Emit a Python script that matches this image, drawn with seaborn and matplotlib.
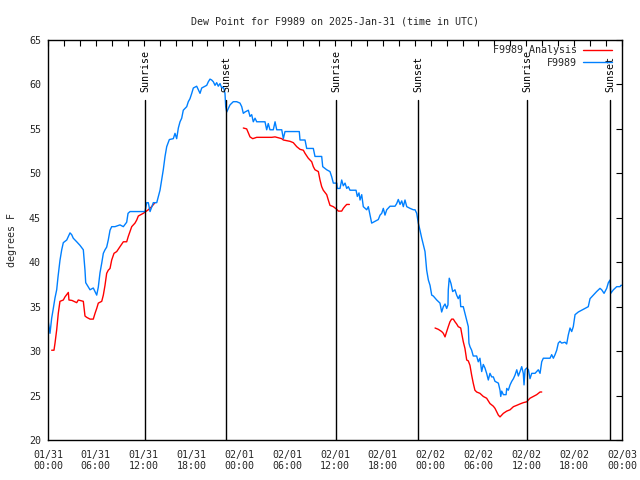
import numpy as np
import pandas as pd
import matplotlib
matplotlib.use("Agg")
import matplotlib.pyplot as plt
import seaborn as sns

# ---- data (hours since 2025-01-31 00:00 UTC, dew point in F) ----
obs_t = [0.0, 0.25, 0.46, 0.63, 0.88, 1.09, 1.25, 1.5, 1.72, 1.92, 2.35, 2.76, 2.97, 3.17, 3.6, 4.01,
         4.43, 4.64, 4.73, 5.06, 5.27, 5.68, 5.9, 6.11, 6.31, 6.52, 6.74, 6.94, 7.15, 7.36, 7.56, 7.78,
         7.99, 8.4, 9.03, 9.45, 9.87, 10.04, 10.29, 12.17, 12.38, 12.58, 12.8, 13.0, 13.21, 13.64, 13.84,
         14.05, 14.26, 14.46, 14.68, 14.89, 15.22, 15.72, 15.93, 16.14, 16.35, 16.56, 16.77, 16.97, 17.4,
         17.6, 17.81, 18.03, 18.23, 18.65, 19.07, 19.28, 19.69, 19.91, 20.11, 20.32, 20.53, 20.74, 20.95,
         21.16, 21.36, 21.58, 21.79, 21.99, 22.2, 22.29, 22.42, 22.62, 22.83, 23.24, 23.67, 24.08, 24.3,
         24.5, 24.71, 25.13, 25.34, 25.55, 25.75, 25.97, 26.18, 27.22, 27.43, 27.63, 27.84, 28.26, 28.48,
         28.69, 29.32, 29.52, 29.73, 31.52, 31.61, 32.24, 32.45, 33.28, 33.49, 34.33, 34.46, 34.96, 35.37,
         35.59, 35.79, 36.22, 36.29, 36.63, 36.84, 37.04, 37.26, 37.47, 37.67, 37.88, 38.64, 38.8, 39.01,
         39.14, 39.35, 39.55, 39.98, 40.18, 40.39, 40.6, 41.02, 41.43, 41.65, 41.86, 42.06, 42.27, 42.49,
         42.9, 43.53, 43.74, 43.94, 44.16, 44.37, 44.57, 44.78, 45.0, 45.41, 45.83, 46.04, 46.25, 46.45,
         46.66, 46.88, 47.29, 47.5, 47.71, 47.92, 48.13, 48.33, 48.76, 49.17, 49.38, 49.59, 49.8, 50.01,
         50.17, 50.21, 50.33, 50.55, 50.76, 51.05, 51.26, 51.46, 51.67, 51.77, 52.09, 52.3, 52.52, 52.72,
         52.8, 52.93, 53.14, 53.34, 53.77, 53.97, 54.18, 54.4, 54.6, 54.81, 55.02, 55.23, 55.44, 55.65,
         55.86, 56.07, 56.49, 56.7, 56.79, 56.91, 57.12, 57.46, 57.54, 57.74, 57.96, 58.17, 58.38, 58.58,
         58.8, 59.0, 59.21, 59.42, 59.62, 59.71, 59.84, 60.05, 60.26, 60.46, 60.68, 61.09, 61.3, 61.5,
         61.72, 61.93, 62.13, 62.97, 63.18, 63.39, 63.6, 63.81, 64.01, 64.22, 64.43, 64.85, 65.06, 65.26,
         65.48, 65.69, 65.89, 66.11, 66.52, 66.94, 67.36, 67.77, 67.99, 68.2, 68.4, 68.82, 69.24, 69.45,
         69.75, 70.08, 70.29, 70.5, 70.59, 70.92, 71.34, 71.76, 71.85, 72.0]
obs_v = [33.5, 32.0, 33.7, 34.6, 36.0, 36.9, 38.3, 40.2, 41.4, 42.2, 42.5, 43.3, 43.1, 42.7, 42.3, 41.9,
         41.4, 39.1, 37.7, 37.2, 36.9, 37.1, 36.7, 36.3, 37.2, 38.8, 39.9, 41.0, 41.4, 41.7, 42.5, 43.6,
         44.0, 44.0, 44.2, 44.0, 44.5, 45.5, 45.7, 45.7, 46.7, 46.7, 45.7, 46.2, 46.7, 46.7, 47.4,
         48.1, 49.25, 50.4, 51.9, 53.0, 53.8, 53.9, 54.5, 53.9, 55.1, 55.8, 56.2, 57.1, 57.5,
         58.06, 58.4, 59.0, 59.6, 59.8, 59.0, 59.6, 59.8, 59.9, 60.3, 60.6, 60.5, 60.3, 59.9,
         60.2, 59.8, 60.1, 59.6, 59.75, 59.0, 57.5, 56.9, 57.3, 57.7, 58.06, 58.06, 57.9, 57.5,
         56.75, 56.9, 57.1, 56.4, 56.6, 55.8, 56.2, 55.8, 55.8, 54.9, 55.6, 54.9, 54.9, 55.8,
         54.9, 54.9, 53.9, 54.7, 54.7, 53.75, 53.75, 52.8, 52.8, 51.9, 51.9, 50.75, 50.4, 50.2,
         49.6, 48.9, 48.9, 48.3, 48.3, 49.25, 48.6, 48.9, 48.3, 48.5, 48.1, 48.1, 47.4, 47.8,
         47.0, 47.6, 46.25, 45.9, 46.25, 45.3, 44.4, 44.6, 44.8, 45.3, 45.5, 46.06, 45.3, 45.9,
         46.3, 46.3, 46.6, 47.06, 46.5, 46.9, 46.25, 47.0, 46.25, 46.06, 45.9, 45.9, 45.5, 44.4,
         43.6, 42.7, 41.2, 39.1, 38.0, 37.4, 36.3, 36.2, 35.75, 35.4, 34.4, 35.0, 35.3, 34.8,
         35.2, 36.9, 38.2, 37.6, 36.7, 36.9, 36.3, 35.9, 36.3, 35.0, 35.0, 34.25, 33.5, 32.75,
         30.9, 30.5, 30.1, 29.45, 29.45, 28.8, 29.2, 27.7, 28.5, 28.1, 27.5, 26.75, 27.5, 27.1,
         27.1, 26.6, 26.4, 25.6, 24.9, 25.5, 25.1, 25.1, 25.8, 25.6, 26.2, 26.6, 26.9, 27.3,
         27.9, 27.2, 27.7, 28.25, 27.5, 26.2, 27.9, 28.1, 27.9, 26.9, 27.5, 27.5, 27.7, 27.9,
         27.5, 28.8, 29.2, 29.2, 29.6, 29.2, 29.6, 30.1, 30.9, 31.1, 30.9, 31.0, 30.8, 31.8,
         32.6, 32.2, 32.75, 34.1, 34.4, 34.6, 34.8, 35.0, 35.9, 36.1, 36.3, 36.7, 37.06, 36.9,
         36.5, 37.06, 37.7, 38.0, 36.5, 36.9, 37.25, 37.25, 37.4, 37.4]

ana_t = [0.46, 0.75, 0.88, 1.09, 1.29, 1.5, 1.92, 2.13, 2.55, 2.63, 3.01, 3.6, 3.8, 4.01, 4.43, 4.64,
         4.85, 5.27, 5.68, 5.9, 6.11, 6.31, 6.74, 6.94, 7.15, 7.36, 7.56, 7.78, 7.99, 8.28, 8.62, 9.03,
         9.45, 9.87, 10.07, 10.5, 10.91, 11.13, 11.33, 11.95, 12.58, 13.0, 13.42,
         24.5, 24.92, 25.34, 25.68, 26.18, 28.06, 28.48, 29.32, 29.52, 30.36, 30.77, 31.2, 31.61, 32.03,
         32.24, 32.65, 33.08, 33.28, 33.49, 33.91, 34.12, 34.33, 34.53, 34.96, 35.16, 35.37, 35.79, 36.22,
         36.42, 36.84, 37.04, 37.26, 37.47, 37.8,
         48.55, 48.96, 49.38, 49.59, 49.8, 50.01, 50.21, 50.42, 50.63, 50.84, 51.05, 51.26, 51.46, 51.77,
         51.89, 52.09, 52.3, 52.52, 52.72, 52.93, 53.14, 53.34, 53.55, 53.77, 54.18, 54.6, 55.02, 55.44,
         55.86, 56.07, 56.49, 56.7, 57.12, 57.54, 57.96, 58.38, 58.8, 59.21, 59.62, 60.05, 60.46, 60.88,
         61.3, 61.72, 61.93]
ana_v = [30.1, 30.1, 30.9, 32.4, 34.25, 35.6, 35.75, 36.1, 36.6, 35.75, 35.7, 35.45, 35.75, 35.7, 35.6, 33.95,
         33.8, 33.6, 33.6, 34.25, 34.8, 35.4, 35.6, 36.3, 37.4, 38.75, 39.1, 39.3, 40.25, 41.0, 41.2, 41.75,
         42.3, 42.3, 42.9, 44.0, 44.4, 44.75, 45.2, 45.5, 45.9, 46.25, 46.7,
         55.1, 55.0, 54.1, 53.9, 54.05, 54.05, 54.1, 53.9, 53.75, 53.6, 53.45, 53.0, 52.7, 52.6,
         52.25, 51.7, 51.3, 50.75, 50.4, 50.2, 49.25, 48.5, 48.1, 47.6, 47.0, 46.4, 46.25, 45.95,
         45.75, 45.75, 46.06, 46.3, 46.5, 46.5,
         32.6, 32.45, 32.2, 32.0, 31.6, 32.2, 32.75, 33.3, 33.6, 33.6, 33.3, 33.05, 32.75, 32.6,
         32.0, 31.06, 30.3, 29.0, 28.9, 28.4, 27.3, 26.4, 25.6, 25.4, 25.25, 24.9, 24.7, 24.1,
         23.8, 23.56, 22.8, 22.6, 23.0, 23.25, 23.4, 23.75, 23.9, 24.06, 24.2, 24.3, 24.7, 24.9,
         25.1, 25.4, 25.4]
ana_seg = [0] * 43 + [1] * 34 + [2] * 45

sun_t = [12.17, 22.33, 36.13, 46.4, 60.1, 70.5]
sun_lbl = ["Sunrise", "Sunset", "Sunrise", "Sunset", "Sunrise", "Sunset"]

xtick_pos = list(range(0, 73, 6))
xtick_lbl = ["01/31\n00:00", "01/31\n06:00", "01/31\n12:00", "01/31\n18:00",
             "02/01\n00:00", "02/01\n06:00", "02/01\n12:00", "02/01\n18:00",
             "02/02\n00:00", "02/02\n06:00", "02/02\n12:00", "02/02\n18:00",
             "02/03\n00:00"]
ytick_pos = [20, 25, 30, 35, 40, 45, 50, 55, 60, 65]

series_names = ["F9989 Analysis", "F9989"]
colors = {"F9989 Analysis": "#ff0000", "F9989": "#0080ff"}

# ---- build long table ----
df = pd.concat([
    pd.DataFrame({"t": ana_t, "v": ana_v, "series": series_names[0],
                  "seg": [f"a{s}" for s in ana_seg]}),
    pd.DataFrame({"t": obs_t, "v": obs_v, "series": series_names[1], "seg": "o0"}),
], ignore_index=True)

sns.set_style("white")
plt.rcParams["font.family"] = ["DejaVu Sans Mono", "DejaVu Sans"]
plt.rcParams["font.size"] = 7.2

fig = plt.figure(figsize=(6.4, 4.8), dpi=100)
ax = fig.add_axes([48 / 640, 40 / 480, 574 / 640, 400 / 480])

sns.lineplot(data=df, x="t", y="v", hue="series", units="seg", estimator=None,
             palette=colors, hue_order=series_names, linewidth=1.0, ax=ax,
             sort=False)

for t, lbl in zip(sun_t, sun_lbl):
    ax.axvline(t, ymin=0, ymax=0.85, color="black", linewidth=1.0)
    ax.text(t, 0.87, lbl, transform=ax.get_xaxis_transform(), rotation=90,
            ha="center", va="bottom", fontsize=7.2, color="black")

ax.set_xlim(0, 72)
ax.set_ylim(20, 65)
ax.set_xticks(xtick_pos)
ax.set_xticklabels(xtick_lbl)
ax.set_xticks(list(range(0, 73, 2)), minor=True)
ax.set_yticks(ytick_pos)
ax.set_yticklabels([str(v) for v in ytick_pos])
ax.tick_params(axis="both", which="both", direction="in", top=True, right=True,
               length=4, width=0.8, color="black", labelsize=7.2, pad=5)
ax.tick_params(axis="x", which="major", pad=7)
for s in ax.spines.values():
    s.set_color("black")
    s.set_linewidth(1.0)
    s.set_visible(True)

ax.set_xlabel("")
ax.set_ylabel("degrees F", fontsize=7.2, labelpad=9)
ax.set_title("Dew Point for F9989 on 2025-Jan-31 (time in UTC)", fontsize=7.2, pad=11)

leg = ax.legend(loc="upper right", bbox_to_anchor=(1 - 3 / 574, 1 + 2 / 400),
                frameon=False, markerfirst=False, fontsize=7.2,
                handlelength=2.9, handletextpad=0.6, borderaxespad=0.3, labelspacing=0.25)
for h in leg.get_lines():
    h.set_linewidth(1.0)

fig.savefig("out.png", dpi=100)
